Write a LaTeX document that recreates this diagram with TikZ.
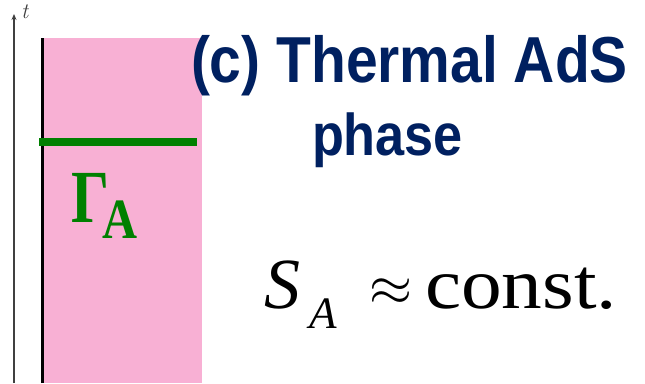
\documentclass[tikz,border=0pt]{standalone}
\usepackage{fontspec}
\usepackage{graphicx}
\usetikzlibrary{arrows.meta}
\newfontfamily\titlefont{Liberation Sans}
\newfontfamily\timesfont{Liberation Serif}
\definecolor{pinkfill}{RGB}{248,176,212}
\definecolor{navy}{RGB}{0,32,96}
\definecolor{gline}{RGB}{0,128,0}
\definecolor{axisgray}{RGB}{64,64,64}
\tikzset{
  txt/.style={inner sep=0pt, outer sep=0pt, anchor=base west},
  titletxt/.style={txt, text=navy},
  greentxt/.style={txt, text=gline},
}
\begin{document}
\begin{tikzpicture}[x=1pt,y=-1pt]
\useasboundingbox (0,0) rectangle (645,383);
% pink region
\fill[pinkfill] (42,38) rectangle (202,383);
% boundary
\coordinate (bt) at (42,38);
\coordinate (bb) at (42,383);
\draw[line width=3pt, black] (bb) -- (bt);
% time axis
\coordinate (ab) at (14,383);
\coordinate (at) at (14,14);
\draw[axisgray, line width=1.3pt, -{Stealth[length=6pt,width=5pt]}] (ab) -- (at);
\node[txt, text=axisgray] (tlab) at (21,18) {\fontsize{22}{24}\selectfont\itshape t};
% green line
\coordinate (gl) at (39,142);
\coordinate (gr) at (197,142);
\draw[gline, line width=7.5pt] (gl) -- (gr);
% Gamma_A
\node[greentxt] (gam) at (71,222) {\timesfont\bfseries\resizebox{38pt}{\height}{\fontsize{75}{80}\selectfont Γ}\kern-7pt\raisebox{-16pt}{\resizebox{35pt}{\height}{\fontsize{57}{60}\selectfont A}}};
% title
\node[titletxt] (title1) at (191,82) {\resizebox{437pt}{\height}{\titlefont\bfseries\fontsize{65}{70}\selectfont (c) Thermal AdS}};
\node[titletxt] (title2) at (312,155) {\resizebox{151pt}{\height}{\titlefont\bfseries\fontsize{59}{64}\selectfont phase}};
% formula
\node[txt] (S) at (264,308) {\timesfont\itshape\fontsize{72}{76}\selectfont S\kern9pt\raisebox{-20pt}{\fontsize{45}{48}\selectfont A}};
\node[inner sep=0pt] (approx) at (391,292) {\resizebox{43pt}{!}{\timesfont $\approx$}};
\node[txt] (const) at (425,308) {\resizebox{192pt}{\height}{\timesfont\fontsize{72}{76}\selectfont const.}};
\end{tikzpicture}
\end{document}
